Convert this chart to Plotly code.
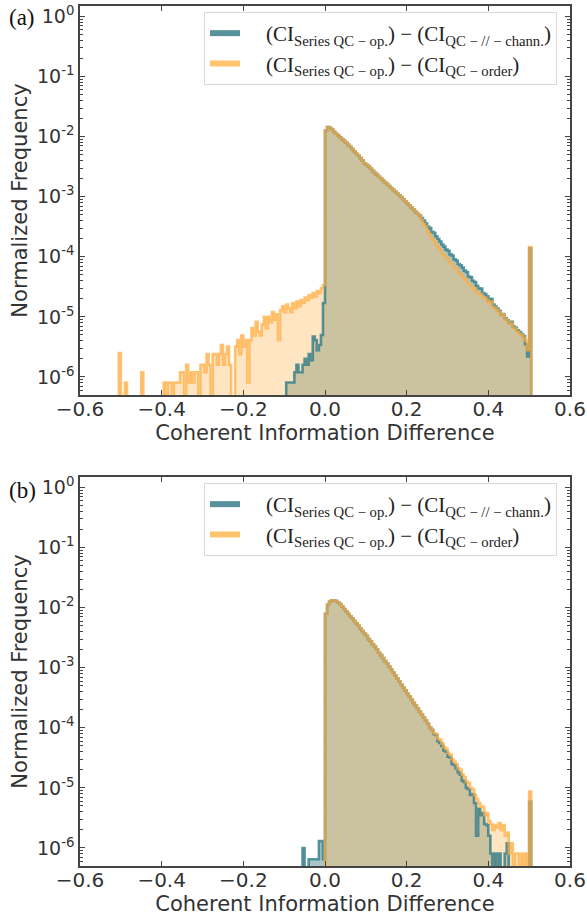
import numpy as np
import plotly.graph_objects as go

# ---------------- data (normalized frequency per bin, bin width 0.005) ----------------
BIN_WIDTH = 0.005

# Panel (a)
teal_a_start = -0.095   # (CI_Series QC-op.) - (CI_QC-//-chann.)
teal_a_neg = [8.1e-7, 8.1e-7, 8.1e-7, 8.1e-7, 1.2e-6, 1.6e-6, 1.2e-6, 1.2e-6, 1.6e-6, 2.0e-6,
              1.6e-6, 2.4e-6, 1.9e-6, 4.7e-6, 4.1e-6, 2.8e-6, 3.4e-6, 5.0e-6, 1.7e-5]
teal_a_pos = [1.26e-2, 1.45e-2, 1.41e-2, 1.32e-2, 1.20e-2, 1.12e-2, 1.05e-2, 9.8e-3, 9.1e-3, 8.5e-3,
              7.9e-3, 7.3e-3, 6.8e-3, 6.2e-3, 5.7e-3, 5.2e-3, 4.8e-3, 4.4e-3, 4.0e-3, 3.6e-3,
              3.4e-3, 3.2e-3, 2.95e-3, 2.7e-3, 2.5e-3, 2.35e-3, 2.15e-3, 2.0e-3, 1.86e-3, 1.74e-3,
              1.62e-3, 1.51e-3, 1.40e-3, 1.30e-3, 1.22e-3, 1.13e-3, 1.06e-3, 9.9e-4, 9.1e-4, 8.4e-4,
              7.8e-4, 7.2e-4, 6.6e-4, 6.1e-4, 5.6e-4, 5.2e-4, 4.9e-4, 4.4e-4, 4.0e-4, 3.6e-4,
              3.2e-4, 3.0e-4, 2.6e-4, 2.5e-4, 2.2e-4, 2.0e-4, 1.8e-4, 1.6e-4, 1.48e-4, 1.32e-4,
              1.26e-4, 1.10e-4, 1.05e-4, 9.1e-5, 8.7e-5, 7.6e-5, 7.2e-5, 6.6e-5, 5.9e-5, 5.6e-5,
              4.7e-5, 4.6e-5, 4.0e-5, 3.8e-5, 3.3e-5, 3.0e-5, 2.95e-5, 2.5e-5, 2.4e-5, 2.2e-5,
              1.9e-5, 2.0e-5, 1.6e-5, 1.48e-5, 1.38e-5, 1.26e-5, 1.10e-5, 1.12e-5, 9.5e-6, 8.9e-6,
              7.9e-6, 8.3e-6, 6.9e-6, 6.6e-6, 6.0e-6, 5.6e-6, 5.2e-6, 4.8e-6, 3.5e-6, 2.2e-6,
              1.38e-4]

orange_a_start = -0.510  # (CI_Series QC-op.) - (CI_QC-order)
orange_a_neg = [0, 2.5e-6, 0, 0, 8.1e-7, 0, 0, 0, 0, 0,
                0, 0, 1.2e-6, 0, 0, 0, 0, 0, 0, 0,
                0, 0, 0, 8.1e-7, 0, 8.1e-7, 8.1e-7, 0, 8.1e-7, 8.1e-7,
                8.1e-7, 1.2e-6, 1.2e-6, 0, 1.6e-6, 8.1e-7, 1.2e-6, 8.1e-7, 1.2e-6, 1.2e-6,
                0, 1.6e-6, 1.6e-6, 1.2e-6, 2.4e-6, 1.6e-6, 0, 2.4e-6, 2.4e-6, 1.6e-6,
                2.4e-6, 3.4e-6, 1.6e-6, 2.4e-6, 3.2e-6, 1.6e-6, 0, 0, 3.2e-6, 4.1e-6,
                2.4e-6, 4.9e-6, 3.2e-6, 4.1e-6, 8.1e-7, 4.1e-6, 6.5e-6, 4.9e-6, 8.3e-6, 5.7e-6,
                4.9e-6, 7.5e-6, 1.0e-5, 6.5e-6, 1.0e-5, 8.1e-6, 1.2e-5, 9.0e-6, 1.1e-5, 4.1e-6,
                1.3e-5, 1.5e-5, 1.2e-5, 1.6e-5, 1.4e-5, 1.2e-5, 1.7e-5, 1.4e-5, 1.8e-5, 1.5e-5,
                1.9e-5, 1.7e-5, 2.1e-5, 1.9e-5, 2.3e-5, 2.1e-5, 2.5e-5, 2.2e-5, 2.7e-5, 2.5e-5,
                3.0e-5, 3.4e-5]
orange_a_pos = [1.26e-2, 1.45e-2, 1.41e-2, 1.32e-2, 1.20e-2, 1.12e-2, 1.05e-2, 9.8e-3, 9.1e-3, 8.5e-3,
                7.9e-3, 7.3e-3, 6.8e-3, 6.2e-3, 5.7e-3, 5.2e-3, 4.8e-3, 4.4e-3, 4.0e-3, 3.6e-3,
                3.4e-3, 3.2e-3, 2.95e-3, 2.7e-3, 2.5e-3, 2.35e-3, 2.15e-3, 2.0e-3, 1.86e-3, 1.74e-3,
                1.62e-3, 1.51e-3, 1.40e-3, 1.30e-3, 1.22e-3, 1.13e-3, 1.06e-3, 9.9e-4, 9.1e-4, 8.4e-4,
                7.8e-4, 7.2e-4, 6.6e-4, 6.1e-4, 5.6e-4, 5.2e-4, 4.9e-4, 4.1e-4, 3.5e-4, 3.2e-4,
                2.6e-4, 2.4e-4, 2.0e-4, 1.9e-4, 1.6e-4, 1.45e-4, 1.35e-4, 1.15e-4, 1.07e-4, 9.5e-5,
                9.1e-5, 7.9e-5, 7.6e-5, 6.6e-5, 6.3e-5, 5.5e-5, 5.2e-5, 4.8e-5, 4.3e-5, 4.1e-5,
                3.5e-5, 3.4e-5, 3.0e-5, 2.95e-5, 2.6e-5, 2.4e-5, 2.4e-5, 2.1e-5, 2.1e-5, 1.9e-5,
                1.7e-5, 1.8e-5, 1.45e-5, 1.41e-5, 1.29e-5, 1.2e-5, 1.05e-5, 1.1e-5, 9.1e-6, 8.7e-6,
                7.6e-6, 7.9e-6, 6.6e-6, 6.3e-6, 5.6e-6, 5.2e-6, 5.0e-6, 4.5e-6, 4.0e-6, 2.8e-6,
                1.45e-4]

# Panel (b)
teal_b_start = -0.055
teal_b_neg = [1.0e-6, 0, 0, 6.5e-7, 6.5e-7, 6.5e-7, 6.5e-7, 6.5e-7, 1.3e-6, 1.3e-6, 6.5e-7]
teal_b_pos = [7.9e-3, 1.12e-2, 1.26e-2, 1.32e-2, 1.32e-2, 1.29e-2, 1.23e-2, 1.15e-2, 1.05e-2, 9.5e-3,
              8.7e-3, 7.9e-3, 7.2e-3, 6.6e-3, 6.0e-3, 5.5e-3, 5.0e-3, 4.5e-3, 4.1e-3, 3.7e-3,
              3.4e-3, 3.0e-3, 2.75e-3, 2.45e-3, 2.25e-3, 2.0e-3, 1.78e-3, 1.62e-3, 1.45e-3, 1.29e-3,
              1.17e-3, 1.05e-3, 9.3e-4, 8.3e-4, 7.4e-4, 6.6e-4, 5.9e-4, 5.2e-4, 4.7e-4, 4.2e-4,
              3.7e-4, 3.3e-4, 2.95e-4, 2.6e-4, 2.35e-4, 2.1e-4, 1.86e-4, 1.66e-4, 1.48e-4, 1.32e-4,
              1.17e-4, 1.02e-4, 9.3e-5, 7.9e-5, 7.6e-5, 6.0e-5, 5.6e-5, 5.0e-5, 4.2e-5, 4.0e-5,
              3.3e-5, 3.2e-5, 2.5e-5, 2.4e-5, 2.1e-5, 1.8e-5, 1.66e-5, 1.32e-5, 1.26e-5, 1.0e-5,
              9.5e-6, 7.6e-6, 7.9e-6, 5.6e-6, 1.6e-6, 4.5e-6, 3.5e-6, 3.8e-6, 2.5e-6, 2.4e-6,
              1.6e-6, 8.1e-7, 0, 8.1e-7, 0, 8.1e-7, 0, 0, 8.1e-7, 1.2e-6,
              0, 0, 0, 0, 0, 0, 0, 0, 0, 0,
              5.9e-6]

orange_b_start = 0.0
orange_b_neg = []
orange_b_pos = [7.9e-3, 1.12e-2, 1.26e-2, 1.32e-2, 1.32e-2, 1.29e-2, 1.23e-2, 1.15e-2, 1.05e-2, 9.5e-3,
                8.7e-3, 7.9e-3, 7.2e-3, 6.6e-3, 6.0e-3, 5.5e-3, 5.0e-3, 4.5e-3, 4.1e-3, 3.7e-3,
                3.4e-3, 3.0e-3, 2.75e-3, 2.45e-3, 2.25e-3, 2.0e-3, 1.78e-3, 1.62e-3, 1.45e-3, 1.29e-3,
                1.17e-3, 1.05e-3, 9.3e-4, 8.3e-4, 7.4e-4, 6.6e-4, 5.9e-4, 5.2e-4, 4.7e-4, 4.2e-4,
                3.7e-4, 3.3e-4, 2.95e-4, 2.6e-4, 2.35e-4, 2.1e-4, 1.86e-4, 1.66e-4, 1.48e-4, 1.32e-4,
                1.17e-4, 1.02e-4, 9.3e-5, 8.1e-5, 7.9e-5, 6.6e-5, 6.3e-5, 5.5e-5, 4.8e-5, 4.5e-5,
                3.8e-5, 3.6e-5, 3.0e-5, 2.75e-5, 2.5e-5, 2.1e-5, 2.0e-5, 1.66e-5, 1.5e-5, 1.26e-5,
                1.2e-5, 1.0e-5, 9.5e-6, 7.6e-6, 6.6e-6, 5.6e-6, 5.0e-6, 4.8e-6, 3.5e-6, 3.8e-6,
                2.8e-6, 2.5e-6, 2.0e-6, 2.4e-6, 2.2e-6, 2.6e-6, 2.0e-6, 2.4e-6, 1.6e-6, 1.8e-6,
                8.1e-7, 1.2e-6, 0, 8.1e-7, 8.1e-7, 0, 8.1e-7, 0, 8.1e-7, 0,
                8.7e-6]

legend_labels = [
    "(CI<sub>Series QC − op.</sub>) − (CI<sub>QC − // − chann.</sub>)",
    "(CI<sub>Series QC − op.</sub>) − (CI<sub>QC − order</sub>)",
]
x_ticks = [-0.6, -0.4, -0.2, 0.0, 0.2, 0.4, 0.6]
y_tickvals = [1, 1e-1, 1e-2, 1e-3, 1e-4, 1e-5, 1e-6]
y_ticktext = ["10<sup>0</sup>", "10<sup>-1</sup>", "10<sup>-2</sup>", "10<sup>-3</sup>",
              "10<sup>-4</sup>", "10<sup>-5</sup>", "10<sup>-6</sup>"]

# ---------------- styling ----------------
W, H = 587, 917
FLOOR = 1e-12
TEAL_LINE = "rgba(45,122,134,0.78)"
TEAL_FILL = "rgba(40,110,120,0.4)"
ORANGE_LINE = "rgba(255,172,62,0.72)"
ORANGE_FILL = "rgba(255,190,100,0.4)"
TEAL_LEG = "rgb(88,146,156)"
ORANGE_LEG = "rgb(255,196,110)"
AX = "#444444"
TXT = "#333333"
LEG_GAP = "\u2003"  # visual gap between legend line sample and label


def step_xy(start, neg, pos):
    vals = np.asarray(list(neg) + list(pos), dtype=float)
    n = len(vals)
    edges = start + BIN_WIDTH * np.arange(n + 1)
    y = np.where(vals > 0, vals, FLOOR)
    xs = np.concatenate([[edges[0]], edges[:-1], [edges[-1]]])
    ys = np.concatenate([[FLOOR], y, [FLOOR]])
    return xs, ys


fig = go.Figure()

panels = [
    ("x", "y", "legend", [(teal_a_start, teal_a_neg, teal_a_pos), (orange_a_start, orange_a_neg, orange_a_pos)]),
    ("x2", "y2", "legend2", [(teal_b_start, teal_b_neg, teal_b_pos), (orange_b_start, orange_b_neg, orange_b_pos)]),
]
for xa, ya, leg, series in panels:
    steps = [step_xy(*s) for s in series]
    # filled areas first
    for (xs, ys), fc in zip(steps, [TEAL_FILL, ORANGE_FILL]):
        fig.add_trace(go.Scatter(x=xs, y=ys, mode="lines", line=dict(shape="hv", width=0),
                                 fill="tozeroy", fillcolor=fc, xaxis=xa, yaxis=ya, showlegend=False,
                                 hoverinfo="skip"))
    # step outlines on top
    for (xs, ys), lc in zip(steps, [TEAL_LINE, ORANGE_LINE]):
        fig.add_trace(go.Scatter(x=xs, y=ys, mode="lines", line=dict(shape="hv", color=lc, width=2.6),
                                 xaxis=xa, yaxis=ya, showlegend=False, hoverinfo="skip"))
    for lab, col in zip(legend_labels, [TEAL_LEG, ORANGE_LEG]):
        fig.add_trace(go.Scatter(x=[None], y=[None], mode="lines", line=dict(color=col, width=6),
                                 name=LEG_GAP + lab, xaxis=xa, yaxis=ya, legend=leg, showlegend=True))

xdom = [80 / W, 570 / W]
ydomA = [1 - 395 / H, 1 - 6 / H]
ydomB = [1 - 866 / H, 1 - 477 / H]

xcommon = dict(range=[-0.6, 0.6], tickvals=x_ticks, tickformat=".1f", ticks="inside", ticklen=5,
               tickwidth=1.2, tickcolor=AX, showline=True, linecolor=AX, linewidth=1.5, mirror="ticks",
               showgrid=False, zeroline=False, domain=xdom, automargin=False, ticklabelstandoff=-5,
               tickfont=dict(family="DejaVu Sans", size=20, color=TXT),
               title=dict(text="Coherent Information Difference", standoff=0,
                          font=dict(family="DejaVu Sans", size=21, color=TXT)))
ycommon = dict(type="log", range=[-6.30, 0.175], tickvals=y_tickvals, ticktext=y_ticktext,
               ticks="inside", ticklen=5, tickwidth=1.2, tickcolor=AX, showline=True, linecolor=AX,
               linewidth=1.5, mirror="ticks", showgrid=False, zeroline=False, automargin=False,
               minor=dict(ticks="inside", ticklen=3, tickcolor=AX, dtick="D1", showgrid=False),
               tickfont=dict(family="DejaVu Sans", size=19, color=TXT),
               title=dict(text="Normalized Frequency", standoff=4,
                          font=dict(family="DejaVu Sans", size=21, color=TXT)))

legcommon = dict(x=204 / W, xanchor="left", yanchor="top", bgcolor="rgba(255,255,255,0.85)",
                 bordercolor="#d9d9d9", borderwidth=1, font=dict(family="Liberation Serif", size=21, color="#222"),
                 itemwidth=30, tracegroupgap=0)

fig.update_layout(
    width=W, height=H, margin=dict(l=0, r=0, t=0, b=0, autoexpand=False),
    plot_bgcolor="white", paper_bgcolor="white",
    xaxis=dict(**xcommon, anchor="y"),
    yaxis=dict(**ycommon, domain=ydomA, anchor="x"),
    xaxis2=dict(**xcommon, anchor="y2"),
    yaxis2=dict(**ycommon, domain=ydomB, anchor="x2"),
    legend=dict(**legcommon, y=1 - 12 / H),
    legend2=dict(**legcommon, y=1 - 483 / H),
    annotations=[
        dict(text="(a)", x=22 / W, y=1 - 18 / H, xref="paper", yref="paper", showarrow=False,
             xanchor="center", yanchor="middle",
             font=dict(family="Liberation Serif", size=23, color="#111")),
        dict(text="(b)", x=22 / W, y=1 - 490 / H, xref="paper", yref="paper", showarrow=False,
             xanchor="center", yanchor="middle",
             font=dict(family="Liberation Serif", size=23, color="#111")),
    ],
)

fig.write_html("out.html", config={"displayModeBar": False},
               post_script="document.body.style.margin='0';document.body.style.overflow='hidden';")
